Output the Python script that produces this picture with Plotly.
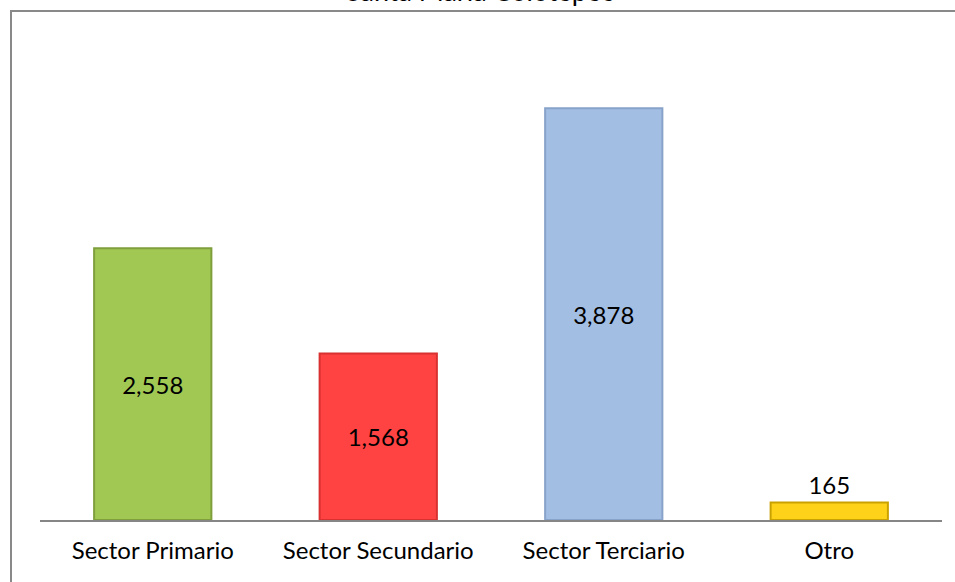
import plotly.graph_objects as go

categories = ["Sector Primario", "Sector Secundario", "Sector Terciario", "Otro"]
values = [2558, 1568, 3878, 165]
value_labels = ["2,558", "1,568", "3,878", "165"]
title_text = "Santa María Colotepec"

bar_colors = ["#A2C854", "#FF4343", "#A3BEE3", "#FFD21A"]
edge_colors = ["#7E9F3C", "#D93030", "#88A3CA", "#C9A200"]

W, H = 955, 582
# target plot area in page pixels: x 40..942, y 30..520
L = 40
R = W - 942
T = 30
B = H - 520
pw, ph = W - L - R, H - T - B


def xp(px):
    return (px - L) / pw


def yp(py):
    return (H - B - py) / ph


FONT = "Lato, Open Sans, sans-serif"

fig = go.Figure()
fig.add_trace(go.Bar(
    x=categories,
    y=values,
    text=value_labels,
    textposition=["inside", "inside", "inside", "outside"],
    insidetextanchor="middle",
    textangle=0,
    textfont=dict(size=24, color="#000000", family=FONT),
    outsidetextfont=dict(size=24, color="#000000", family=FONT),
    marker=dict(color=bar_colors, line=dict(color=edge_colors, width=2)),
    cliponaxis=False,
    hoverinfo="x+y",
))

fig.update_layout(
    width=W, height=H,
    margin=dict(l=L, r=R, t=T, b=B),
    paper_bgcolor="white",
    plot_bgcolor="white",
    bargap=0.48,
    showlegend=False,
    font=dict(family=FONT, size=24, color="#000000"),
    xaxis=dict(
        showline=True, linecolor="#868686", linewidth=2,
        showgrid=False, ticks="", zeroline=False,
        tickfont=dict(size=24, color="#000000"),
        ticklabelstandoff=8,
    ),
    yaxis=dict(
        range=[0, 4614], visible=False, showgrid=False, zeroline=False,
    ),
    shapes=[dict(
        type="rect", xref="paper", yref="paper",
        x0=xp(11), x1=xp(1000), y0=yp(700), y1=yp(11),
        line=dict(color="#898989", width=2), fillcolor="rgba(0,0,0,0)",
        layer="below",
    )],
    annotations=[dict(
        text=title_text, xref="paper", yref="paper",
        x=xp(480), y=yp(9), xanchor="center", yanchor="bottom",
        showarrow=False, font=dict(size=27, color="#000000", family=FONT),
    )],
)

fig.write_html(
    "out.html",
    config={"displayModeBar": False},
    post_script="document.body.style.margin='0';document.body.style.overflow='hidden';",
)
